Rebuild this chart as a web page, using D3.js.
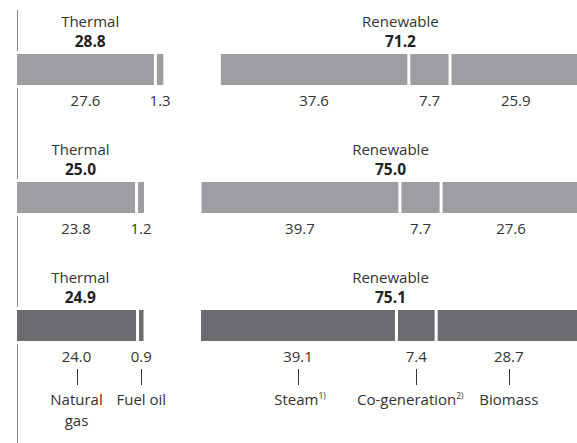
<!DOCTYPE html>
<html>
<head>
<meta charset="utf-8">
<script src="https://cdn.jsdelivr.net/npm/d3@7"></script>
<style>
  html, body { margin: 0; padding: 0; background: #fff; }
  svg { display: block; font-family: "Open Sans", "Noto Sans", sans-serif; }
</style>
</head>
<body>
<svg id="chart" width="577" height="443"></svg>
<script>
// ---- data ----
const rowIds = [0, 1, 2];
const groupNames = ["Thermal", "Renewable"];
const thermalTotals = [28.8, 25.0, 24.9];
const renewableTotals = [71.2, 75.0, 75.1];
const naturalGas = [27.6, 23.8, 24.0];
const fuelOil = [1.3, 1.2, 0.9];
const steam = [37.6, 39.7, 39.1];
const cogeneration = [7.7, 7.7, 7.4];
const biomass = [25.9, 27.6, 28.7];
const thermalLabels = [["Natural", "gas"], ["Fuel oil"]];
const renewableLabels = [["Steam", "1)"], ["Co-generation", "2)"], ["Biomass", ""]];

// ---- styles ----
const rowColors = ["#9d9ea2", "#9d9ea2", "#6b6c70"];
const textColor = "#333333";
const fontSize = 15;
const boldSize = 15.5;

const svg = d3.select("#chart");
const W = 577, H = 443;
const x0 = 17, gap = 3, groupGap = 57.5, barH = 31;

const w = d3.scaleLinear().domain([0, 100]).range([0, 496]);
const y = d3.scaleLinear().domain([0, 1]).range([54, 182]);

// axis line on the left
svg.append("line")
  .attr("x1", x0 + 0.5).attr("x2", x0 + 0.5)
  .attr("y1", 10).attr("y2", H)
  .attr("stroke", "#8c8c8c").attr("stroke-width", 1);

function layoutGroup(values, start) {
  let cum = 0;
  return values.map((v, i) => {
    const s = start + w(cum) + i * gap;
    cum += v;
    return { v, x: s, width: w(v) };
  });
}

rowIds.forEach(r => {
  const top = y(r);
  const thSegs = layoutGroup([naturalGas[r], fuelOil[r]], x0);
  const thEnd = thSegs[thSegs.length - 1].x + thSegs[thSegs.length - 1].width;
  const reStart = thEnd + groupGap;
  const reSegs = layoutGroup([steam[r], cogeneration[r], biomass[r]], reStart);
  const reEnd = reSegs[reSegs.length - 1].x + reSegs[reSegs.length - 1].width;

  const g = svg.append("g");
  // white halo to break the axis line around the bar
  g.append("rect")
    .attr("x", x0 - 3).attr("y", top - 3)
    .attr("width", 8).attr("height", barH + 6)
    .attr("fill", "#fff");

  const groups = [
    { name: groupNames[0], total: thermalTotals[r], segs: thSegs, cx: (x0 + thEnd) / 2 },
    { name: groupNames[1], total: renewableTotals[r], segs: reSegs, cx: (reStart + reEnd) / 2 }
  ];

  groups.forEach(gr => {
    g.append("text")
      .attr("x", gr.cx).attr("y", top - 27.3)
      .attr("text-anchor", "middle")
      .attr("font-size", fontSize).attr("fill", textColor)
      .text(gr.name);
    g.append("text")
      .attr("x", gr.cx).attr("y", top - 7.3)
      .attr("text-anchor", "middle")
      .attr("font-size", boldSize).attr("font-weight", "bold").attr("fill", "#222")
      .text(d3.format(".1f")(gr.total));

    g.selectAll(null).data(gr.segs).enter().append("rect")
      .attr("x", d => d.x).attr("y", top)
      .attr("width", d => d.width).attr("height", barH)
      .attr("fill", rowColors[r]);

    g.selectAll(null).data(gr.segs).enter().append("text")
      .attr("x", d => d.x + d.width / 2)
      .attr("y", top + barH + 20.5)
      .attr("text-anchor", "middle")
      .attr("font-size", fontSize).attr("fill", textColor)
      .text(d => d3.format(".1f")(d.v));
  });

  // category labels under last row
  if (r === rowIds.length - 1) {
    const allSegs = thSegs.concat(reSegs);
    const labelOffsets = [0, 0, 2, -6, 0];
    const allLabels = thermalLabels.map(l => ({ lines: l, sup: "" }))
      .concat(renewableLabels.map(l => ({ lines: [l[0]], sup: l[1] })));
    allSegs.forEach((d, i) => {
      const cx = d.x + d.width / 2;
      g.append("line")
        .attr("x1", Math.round(cx) + 0.5).attr("x2", Math.round(cx) + 0.5)
        .attr("y1", 369).attr("y2", 385)
        .attr("stroke", "#333").attr("stroke-width", 1);
      const lab = allLabels[i];
      lab.lines.forEach((line, j) => {
        const t = g.append("text")
          .attr("x", cx + labelOffsets[i]).attr("y", 405 + j * 20.8)
          .attr("text-anchor", "middle")
          .attr("font-size", fontSize).attr("fill", textColor)
          .text(line);
        if (j === 0 && lab.sup) {
          t.append("tspan")
            .attr("font-size", 8.5)
            .attr("dy", -6)
            .text(lab.sup);
        }
      });
    });
  }
});
</script>
</body>
</html>
